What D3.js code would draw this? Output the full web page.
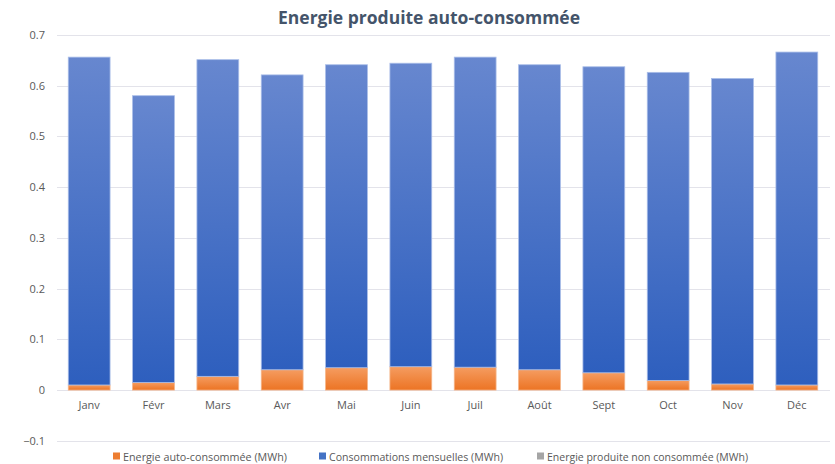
<!DOCTYPE html>
<html>
<head>
<meta charset="utf-8">
<script src="https://cdn.jsdelivr.net/npm/d3@7"></script>
<style>
  html, body { margin: 0; padding: 0; background: #fff; }
  svg { display: block; font-family: "Open Sans", "Noto Sans", sans-serif; }
</style>
</head>
<body>
<svg id="chart" width="835" height="464"></svg>
<script>
// Months on the x axis
const months = ["Janv", "Févr", "Mars", "Avr", "Mai", "Juin", "Juil", "Août", "Sept", "Oct", "Nov", "Déc"];
// Self-consumed energy (MWh)
const autoConsommee = [0.010, 0.015, 0.027, 0.040, 0.044, 0.046, 0.045, 0.040, 0.034, 0.019, 0.012, 0.010];
// Monthly consumption (MWh)
const consommations = [0.646, 0.565, 0.624, 0.581, 0.597, 0.598, 0.611, 0.601, 0.603, 0.607, 0.602, 0.656];
// Produced but not consumed energy (MWh)
const nonConsommee = [0, 0, 0, 0, 0, 0, 0, 0, 0, 0, 0, 0];
// Y axis ticks
const yTicks = [-0.1, 0, 0.1, 0.2, 0.3, 0.4, 0.5, 0.6, 0.7];

const seriesNames = [
  "Energie auto-consommée (MWh)",
  "Consommations mensuelles (MWh)",
  "Energie produite non consommée (MWh)"
];

const svg = d3.select("#chart");

const x = d3.scaleBand().domain(months).range([57, 829]).paddingInner(0.35).paddingOuter(0.175);
const y = d3.scaleLinear().domain([-0.1, 0.7]).range([440.8, 34.8]);

// Gradients for the bar fills
const defs = svg.append("defs");
function grad(id, top, bottom) {
  const g = defs.append("linearGradient").attr("id", id)
    .attr("x1", 0).attr("y1", 0).attr("x2", 0).attr("y2", 1);
  g.append("stop").attr("offset", "0%").attr("stop-color", top);
  g.append("stop").attr("offset", "100%").attr("stop-color", bottom);
}
grad("gOrange", "#f59c60", "#ec7424");
grad("gBlue", "#6787cf", "#2e5fbe");
grad("gGrey", "#b5b5b5", "#959595");

// Title
svg.append("text")
  .attr("x", 429).attr("y", 24)
  .attr("text-anchor", "middle")
  .attr("font-size", 18).attr("font-weight", "bold")
  .attr("fill", "#44546a")
  .attr("textLength", 302).attr("lengthAdjust", "spacingAndGlyphs")
  .text("Energie produite auto-consommée");

// Gridlines
svg.append("g").selectAll("line").data(yTicks).join("line")
  .attr("x1", 57).attr("x2", 830)
  .attr("y1", d => Math.round(y(d)) + 0.5).attr("y2", d => Math.round(y(d)) + 0.5)
  .attr("stroke", "#e3e3ea").attr("stroke-width", 1);

// Y axis labels
const yAxis = d3.axisLeft(y).tickValues(yTicks).tickSize(0).tickPadding(0)
  .tickFormat(d => d === 0 ? "0" : d3.format(".1f")(d));
const gy = svg.append("g").attr("transform", "translate(45,0)").call(yAxis);
gy.select(".domain").remove();
gy.selectAll("text").attr("font-size", 11).attr("fill", "#595959")
  .attr("font-family", "'Open Sans', sans-serif");

// Stacked bars
const rows = months.map((m, i) => ({ m, a: autoConsommee[i], c: consommations[i], n: nonConsommee[i] }));
const stack = d3.stack().keys(["a", "c", "n"])(rows);
const fills = ["url(#gOrange)", "url(#gBlue)", "url(#gGrey)"];
const strokes = ["#f5b487", "#a9bde8", "#cfcfcf"];

stack.forEach((layer, li) => {
  svg.append("g").selectAll("rect").data(layer).join("rect")
    .attr("x", d => x(d.data.m))
    .attr("width", x.bandwidth())
    .attr("y", d => y(d[1]))
    .attr("height", d => Math.max(0, y(d[0]) - y(d[1])))
    .attr("fill", fills[li])
    .attr("stroke", d => (d[1] - d[0]) > 0 ? strokes[li] : "none")
    .attr("stroke-width", 0.8);
});

// X axis labels
const xAxis = d3.axisBottom(x).tickSize(0).tickPadding(0);
const gx = svg.append("g").attr("transform", "translate(0,401)").call(xAxis);
gx.select(".domain").remove();
gx.selectAll("text").attr("font-size", 11).attr("fill", "#595959")
  .attr("font-family", "'Open Sans', sans-serif");

// Legend
const legendColors = ["#ed7d31", "#4472c4", "#a5a5a5"];
const legendX = [113, 319, 537];
const legendLen = [164, 174, 201];
const lg = svg.append("g");
seriesNames.forEach((name, i) => {
  lg.append("rect").attr("x", legendX[i]).attr("y", 452.5).attr("width", 7).attr("height", 7)
    .attr("fill", legendColors[i]);
  lg.append("text").attr("x", legendX[i] + 10).attr("y", 460.5)
    .attr("font-size", 11).attr("fill", "#595959")
    .attr("textLength", legendLen[i]).attr("lengthAdjust", "spacingAndGlyphs")
    .text(name);
});
</script>
</body>
</html>
